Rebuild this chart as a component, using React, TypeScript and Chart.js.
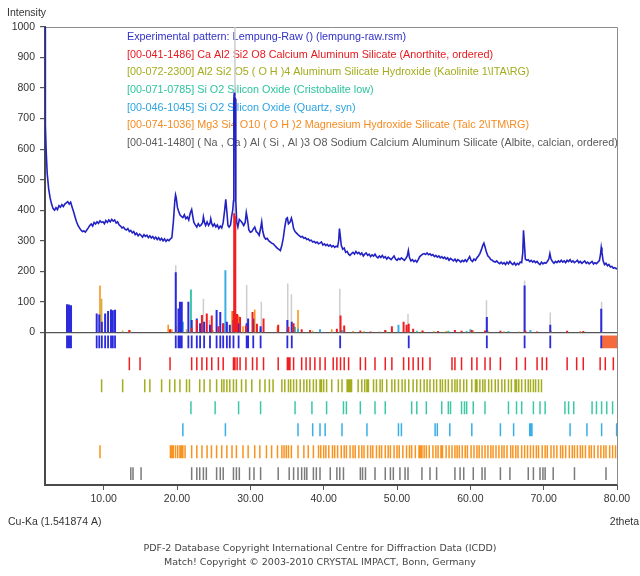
import React, { useEffect, useRef } from "react";
import { Chart, registerables } from "chart.js";

Chart.register(...registerables);

// ---------------- data ----------------
const X_MIN = 2;
const X_MAX = 80;
const Y_MIN = -500;
const Y_MAX = 1000;
const xTickValues = [10, 20, 30, 40, 50, 60, 70, 80];
const yTickValues = [0, 100, 200, 300, 400, 500, 600, 700, 800, 900, 1000];

// experimental pattern [2theta, intensity]
const expPattern: [number, number][] = [
  [2.0, 1100], [2.05, 680], [2.15, 600], [2.3, 520], [2.5, 470], [2.7, 440], [2.9, 420], [3.1, 405], [3.3, 400],
  [3.5, 408], [3.7, 402], [3.9, 415], [4.1, 410], [4.3, 418], [4.5, 412], [4.7, 420], [4.9, 424], [5.1, 428],
  [5.3, 420], [5.5, 426], [5.7, 410], [5.9, 395], [6.1, 378], [6.3, 362], [6.5, 350], [6.7, 342], [6.9, 335],
  [7.1, 330], [7.3, 332], [7.5, 328], [7.7, 335], [7.9, 342], [8.1, 350], [8.3, 355], [8.5, 348], [8.7, 360],
  [8.9, 355], [9.1, 362], [9.3, 357], [9.5, 365], [9.7, 360], [9.9, 362], [10.1, 356], [10.3, 366], [10.5, 360],
  [10.7, 368], [10.9, 362], [11.1, 370], [11.3, 364], [11.5, 368], [11.7, 358], [11.9, 362], [12.1, 352], [12.3, 348],
  [12.5, 342], [12.7, 345], [12.9, 338], [13.1, 335], [13.3, 340], [13.5, 330], [13.7, 334], [13.9, 326], [14.1, 330],
  [14.3, 320], [14.5, 325], [14.7, 316], [14.9, 322], [15.1, 318], [15.3, 312], [15.5, 320], [15.7, 314], [15.9, 318],
  [16.1, 310], [16.3, 316], [16.5, 309], [16.7, 314], [16.9, 306], [17.1, 312], [17.3, 304], [17.5, 310], [17.7, 302],
  [17.9, 308], [18.1, 300], [18.3, 306], [18.5, 298], [18.7, 304], [18.9, 300], [19.1, 306], [19.3, 310], [19.5, 360],
  [19.7, 430], [19.8, 450], [19.9, 440], [20.05, 410], [20.2, 398], [20.4, 385], [20.6, 380], [20.8, 376], [21.0, 385],
  [21.2, 372], [21.4, 378], [21.6, 368], [21.8, 390], [22.0, 402], [22.15, 380], [22.3, 360], [22.5, 352], [22.7, 345],
  [22.9, 356], [23.1, 348], [23.3, 352], [23.5, 360], [23.6, 378], [23.75, 360], [23.9, 350], [24.1, 362], [24.3, 350],
  [24.5, 358], [24.6, 372], [24.75, 355], [24.9, 348], [25.1, 355], [25.3, 345], [25.5, 352], [25.7, 340], [25.9, 348],
  [26.1, 342], [26.3, 360], [26.5, 400], [26.65, 436], [26.8, 395], [26.95, 350], [27.1, 345], [27.3, 352], [27.45, 380],
  [27.6, 400], [27.7, 430], [27.75, 760], [27.8, 785], [27.88, 772], [27.95, 765], [28.02, 430], [28.15, 360],
  [28.3, 345], [28.5, 370],
  [28.7, 365], [28.9, 358], [29.1, 350], [29.3, 360], [29.45, 392], [29.6, 372], [29.8, 335], [30.0, 328], [30.2, 330],
  [30.4, 338], [30.6, 345], [30.8, 330], [31.0, 326], [31.2, 318], [31.4, 340], [31.55, 362], [31.7, 330], [31.9, 312],
  [32.1, 305], [32.3, 308], [32.5, 300], [32.7, 296], [32.9, 292], [33.1, 290], [33.3, 285], [33.5, 280], [33.7, 275],
  [33.9, 272], [34.1, 268], [34.3, 285], [34.5, 310], [34.7, 345], [34.9, 372], [35.05, 375], [35.2, 355], [35.4, 360],
  [35.6, 374], [35.75, 360], [35.9, 340], [36.1, 330], [36.3, 325], [36.5, 320], [36.7, 316], [36.9, 312], [37.1, 314],
  [37.3, 308], [37.5, 310], [37.7, 304], [37.9, 306], [38.1, 300], [38.3, 302], [38.5, 296], [38.7, 298], [38.9, 293],
  [39.1, 296], [39.3, 290], [39.5, 292], [39.7, 296], [39.9, 286], [40.1, 290], [40.3, 284], [40.5, 288], [40.7, 282],
  [40.9, 286], [41.1, 280], [41.3, 284], [41.5, 278], [41.7, 282], [41.9, 280], [42.05, 300], [42.15, 340], [42.25, 320],
  [42.4, 285], [42.6, 272], [42.8, 276], [43.0, 262], [43.2, 265], [43.4, 256], [43.6, 252], [43.8, 258], [44.0, 262],
  [44.2, 256], [44.4, 265], [44.6, 258], [44.8, 262], [45.0, 255], [45.2, 260], [45.4, 250], [45.6, 256], [45.8, 260],
  [46.0, 252], [46.2, 256], [46.4, 248], [46.6, 254], [46.8, 250], [47.0, 256], [47.2, 248], [47.4, 244], [47.6, 250],
  [47.8, 245], [48.0, 252], [48.2, 244], [48.4, 248], [48.6, 240], [48.8, 246], [49.0, 242], [49.2, 238], [49.4, 244],
  [49.6, 250], [49.8, 240], [50.0, 236], [50.2, 242], [50.4, 238], [50.6, 244], [50.8, 240], [51.0, 236], [51.2, 242],
  [51.4, 250], [51.55, 268], [51.7, 245], [51.9, 234], [52.1, 238], [52.3, 232], [52.5, 236], [52.7, 230], [52.9, 238],
  [53.1, 248], [53.3, 252], [53.5, 256], [53.7, 258], [53.9, 255], [54.1, 260], [54.3, 254], [54.5, 257], [54.7, 252],
  [54.9, 255], [55.1, 248], [55.3, 252], [55.5, 246], [55.7, 250], [55.9, 244], [56.1, 248], [56.3, 242], [56.5, 246],
  [56.7, 240], [56.9, 244], [57.1, 236], [57.3, 242], [57.5, 238], [57.7, 234], [57.9, 240], [58.1, 232], [58.3, 238],
  [58.5, 235], [58.7, 230], [58.9, 236], [59.1, 232], [59.3, 238], [59.5, 232], [59.7, 240], [59.9, 248], [60.1, 236],
  [60.3, 232], [60.5, 240], [60.7, 236], [60.9, 244], [61.1, 250], [61.3, 258], [61.5, 270], [61.7, 285], [61.85, 292],
  [62.0, 280], [62.2, 262], [62.4, 250], [62.6, 245], [62.8, 238], [63.0, 236], [63.2, 232], [63.4, 230], [63.6, 234],
  [63.8, 228], [64.0, 225], [64.2, 230], [64.4, 224], [64.6, 228], [64.8, 222], [65.0, 230], [65.2, 224], [65.4, 232],
  [65.6, 226], [65.8, 222], [66.0, 228], [66.2, 220], [66.4, 226], [66.6, 222], [66.8, 230], [67.0, 228], [67.15, 260],
  [67.25, 334], [67.35, 300], [67.5, 240], [67.7, 236], [67.9, 238], [68.1, 232], [68.3, 236], [68.5, 230], [68.7, 234],
  [68.9, 228], [69.1, 232], [69.3, 226], [69.5, 222], [69.7, 230], [69.9, 224], [70.1, 228], [70.3, 226], [70.5, 232],
  [70.7, 240], [70.85, 258], [71.0, 240], [71.2, 232], [71.4, 226], [71.6, 232], [71.8, 228], [72.0, 234], [72.2, 230],
  [72.4, 236], [72.6, 230], [72.8, 234], [73.0, 228], [73.2, 236], [73.4, 232], [73.6, 238], [73.8, 230], [74.0, 234],
  [74.2, 228], [74.4, 232], [74.6, 236], [74.8, 228], [75.0, 232], [75.2, 226], [75.4, 230], [75.6, 234], [75.8, 226],
  [76.0, 230], [76.2, 224], [76.4, 228], [76.6, 232], [76.8, 224], [77.0, 228], [77.2, 225], [77.4, 230], [77.6, 235],
  [77.75, 255], [77.85, 278], [77.95, 262], [78.1, 235], [78.3, 222], [78.5, 226], [78.7, 218], [78.9, 222], [79.1, 214],
  [79.3, 216], [79.5, 210], [79.7, 212], [79.9, 208], [80.0, 210],
];

// peak list (blue): positions and stick heights
const peakListTheta = [5.0, 5.12, 5.25, 5.4, 5.55, 9.05, 9.4, 9.75, 10.2, 10.6, 11.0, 11.25, 11.55, 19.83, 20.2, 20.4, 20.65,
  21.55, 22.0, 22.7, 23.15, 23.7, 24.5, 25.4, 25.9, 26.3, 26.8, 27.2, 27.7, 28.4, 29.5, 29.7, 30.4, 31.4, 35.05, 35.65,
  42.25, 51.6, 62.25, 67.4, 70.9, 77.85];
const peakListHeight = [92, 90, 91, 88, 89, 62, 58, 35, 62, 70, 75, 72, 74, 197, 78, 100, 100,
  100, 40, 45, 30, 35, 25, 73, 67, 30, 35, 25, 40, 30, 30, 45, 45, 20, 40, 35,
  0, 0, 50, 153, 25, 77];
const selectedRange = [77.85, 80];

// Anorthite (red)
const anorthiteTheta = [13.5, 14.96, 19.05, 22.0, 22.7, 23.4, 24.06, 24.74, 25.64, 26.3, 27.7, 27.9, 28.2, 28.6, 29.4, 30.3,
  30.9, 31.8, 33.8, 35.05, 35.2, 35.4, 35.9, 37.0, 37.6, 38.15, 38.8, 39.5, 40.2, 41.3, 41.8, 42.3, 42.8, 43.4, 45.0,
  45.7, 47.0, 48.4, 49.3, 50.9, 51.6, 52.2, 52.9, 53.5, 54.5, 57.5, 57.9, 58.8, 60.2, 60.9, 62.0, 62.7, 64.1, 66.3,
  67.5, 69.1, 69.8, 70.4, 73.2, 74.5, 75.4, 77.7, 78.4, 79.5];
const anorthiteSticks: [number, number][] = [[13.5, 8], [19.05, 10], [22.0, 15], [22.7, 40], [23.4, 57], [24.06, 62],
  [24.74, 55], [25.64, 20], [26.3, 28], [27.7, 70], [27.8, 390], [27.95, 380], [28.2, 60], [28.6, 50], [29.4, 22],
  [30.3, 67], [30.9, 28], [31.8, 45], [33.8, 25], [35.2, 18], [35.9, 30], [37.0, 10], [38.15, 8], [41.8, 12],
  [42.3, 55], [42.8, 22], [45.0, 6], [46.4, 3], [48.4, 8], [49.3, 20], [50.9, 35], [51.3, 25], [51.6, 28], [52.2, 12],
  [53.5, 6], [55.6, 4], [57.9, 8], [58.8, 5], [60.2, 8], [62.0, 6], [64.1, 5], [67.5, 6], [69.1, 3], [73.2, 5], [75.4, 4]];

// Kaolinite (olive)
const kaoliniteTheta = [9.72, 12.59, 15.6, 16.3, 17.9, 19.0, 19.7, 20.4, 21.3, 21.7, 23.1, 23.7, 24.5, 25.4, 26.1, 26.4,
  26.8, 27.2, 27.7, 28.1, 28.8, 29.4, 30.2, 31.3, 32.0, 32.6, 33.1, 34.3, 34.7, 35.2, 35.5, 35.9, 36.3, 36.8, 37.3,
  37.7, 38.1, 38.6, 39.0, 39.5, 39.7, 40.0, 40.4, 41.1, 42.0, 42.5, 43.2, 43.4, 43.6, 43.8, 44.7, 45.2, 45.6, 45.9,
  46.1, 46.8, 47.2, 47.7, 48.0, 48.6, 49.3, 49.7, 50.2, 50.7, 51.1, 51.6, 52.2, 52.7, 53.2, 53.7, 54.1, 54.5, 55.0,
  55.4, 55.9, 56.2, 56.6, 57.0, 57.5, 57.9, 58.2, 58.6, 59.1, 59.5, 60.2, 60.7, 60.9, 61.3, 61.7, 62.0, 62.5, 62.9,
  63.4, 63.8, 64.3, 64.7, 65.2, 65.6, 66.1, 66.3, 66.6, 67.0, 67.5, 67.9, 68.2, 68.6, 68.9, 69.3, 69.7];
const kaoliniteSticks: [number, number][] = [[9.72, 110], [12.59, 6], [19.9, 20], [20.4, 12], [21.3, 10], [24.9, 8],
  [35.0, 6], [38.5, 5], [45.5, 4], [48.6, 3], [55.0, 4], [62.4, 5], [66.6, 3]];

// Cristobalite (teal)
const cristobaliteTheta = [21.9, 25.2, 28.4, 31.4, 36.1, 38.4, 40.4, 42.7, 43.1, 45.0, 47.0, 48.4, 52.0, 52.7, 54.0,
  56.1, 57.0, 57.3, 58.8, 59.2, 59.5, 60.4, 62.0, 65.2, 66.3, 67.0, 68.6, 69.5, 70.2, 72.9, 73.4, 74.1, 76.6, 77.2,
  77.9, 78.6, 79.4];
const cristobaliteSticks: [number, number][] = [[21.9, 140], [28.4, 15], [31.4, 12], [36.1, 18], [48.4, 6], [52.7, 5],
  [57.0, 5], [59.5, 4], [65.2, 4]];

// Quartz (cyan)
const quartzTheta = [20.8, 26.6, 36.5, 38.5, 39.5, 40.2, 42.5, 45.9, 50.2, 50.6, 55.2, 55.5, 57.2, 60.2, 64.1, 65.9,
  68.1, 68.25, 68.4, 73.6, 75.9, 77.9, 79.95];
const quartzSticks: [number, number][] = [[20.8, 35], [26.6, 203], [36.5, 12], [39.5, 10], [42.5, 8], [50.2, 25],
  [60.0, 10], [68.2, 8]];

// Talc (orange)
const talcTheta = [9.5, 19.1, 19.3, 19.5, 19.8, 20.1, 20.4, 20.6, 20.8, 21.1, 22.0, 22.7, 23.4, 24.1, 24.7, 25.4, 26.1,
  26.8, 27.5, 28.1, 29.0, 29.7, 30.6, 31.3, 32.2, 32.9, 33.7, 34.3, 34.6, 34.9, 35.2, 35.6, 36.5, 37.3, 37.9, 38.6,
  39.3, 39.6, 40.0, 40.3, 40.7, 41.2, 41.5, 41.9, 42.4, 42.8, 43.1, 43.6, 44.0, 44.3, 44.8, 45.2, 45.5, 46.0, 46.4,
  46.7, 47.2, 47.6, 47.9, 48.4, 48.8, 49.1, 49.6, 50.0, 50.3, 50.8, 51.3, 51.7, 52.0, 52.5, 53.0, 53.2, 53.4, 53.7,
  54.0, 54.4, 54.9, 55.3, 55.6, 56.0, 56.2, 56.7, 57.1, 57.5, 57.9, 58.2, 58.5, 58.9, 59.3, 59.6, 60.1, 60.5, 60.9,
  61.2, 61.6, 62.0, 62.4, 62.8, 63.1, 63.5, 63.9, 64.3, 64.6, 65.0, 65.5, 65.8, 66.2, 66.5, 67.0, 67.4, 67.8, 68.2,
  68.6, 69.0, 69.3, 69.8, 70.2, 70.5, 71.0, 71.4, 71.8, 72.3, 72.6, 73.0, 73.5, 73.9, 74.2, 74.6, 75.0, 75.3, 75.7,
  76.2, 76.5, 76.9, 77.4, 77.8, 78.2, 78.5, 79.0, 79.4, 79.8];
const talcSticks: [number, number][] = [[9.5, 153], [13.5, 8], [18.8, 25], [19.3, 10], [27.5, 70], [28.4, 55],
  [29.0, 20], [30.6, 75], [33.7, 18], [36.5, 73], [41.1, 10], [44.0, 4], [47.6, 3], [49.3, 10], [53.4, 5], [56.7, 4],
  [60.4, 6], [64.6, 3], [71.0, 5], [75.0, 4]];

// Albite (gray)
const albiteTheta = [13.7, 14.0, 15.1, 22.0, 22.7, 23.1, 23.6, 24.0, 25.4, 25.9, 26.3, 27.7, 28.1, 28.5, 29.9, 30.5,
  31.4, 33.8, 35.3, 35.9, 36.5, 37.0, 37.4, 37.7, 38.6, 39.0, 39.5, 40.9, 41.8, 42.2, 42.7, 45.0, 45.3, 45.7, 47.0,
  48.4, 49.1, 49.5, 50.4, 51.1, 51.5, 53.4, 54.5, 55.4, 57.9, 58.6, 59.1, 60.4, 61.6, 62.0, 64.1, 65.4, 67.9, 68.6,
  69.5, 69.9, 70.2, 71.3, 74.2, 78.5];
const albiteSticks: [number, number][] = [[13.7, 5], [19.83, 220], [22.0, 30], [23.6, 110], [24.4, 40], [27.9, 1000],
  [28.1, 60], [29.5, 155], [30.5, 40], [31.5, 100], [35.1, 160], [35.6, 125], [42.2, 143], [51.5, 60], [62.2, 105],
  [67.4, 170], [70.9, 65], [77.9, 100]];

const legendLines = [
  "Experimental pattern: Lempung-Raw () (lempung-raw.rsm)",
  "[00-041-1486] Ca Al2 Si2 O8 Calcium Aluminum Silicate (Anorthite, ordered)",
  "[00-072-2300] Al2 Si2 O5 ( O H )4 Aluminum Silicate Hydroxide (Kaolinite 1\\ITA\\RG)",
  "[00-071-0785] Si O2 Silicon Oxide (Cristobalite low)",
  "[00-046-1045] Si O2 Silicon Oxide (Quartz, syn)",
  "[00-074-1036] Mg3 Si4 O10 ( O H )2 Magnesium Hydroxide Silicate (Talc 2\\ITM\\RG)",
  "[00-041-1480] ( Na , Ca ) Al ( Si , Al )3 O8 Sodium Calcium Aluminum Silicate (Albite, calcian, ordered)",
];
const yAxisTitle = "Intensity";
const xAxisLeftTitle = "Cu-Ka (1.541874 A)";
const xAxisRightTitle = "2theta";
const footerLines = [
  "PDF-2 Database Copyright International Centre for Diffraction Data (ICDD)",
  "Match! Copyright \u00A9 2003-2010 CRYSTAL IMPACT, Bonn, Germany",
];

// ---------------- styling ----------------
const C_EXP = "#2222c4";
const C_BLUE = "#2b2bdc";
const C_RED = "#f01e23";
const C_OLIVE = "#a3ad1e";
const C_TEAL = "#3cc8a6";
const C_CYAN = "#3aaee6";
const C_ORANGE = "#f7931e";
const C_GRAY_ROW = "#7a7a7a";
const C_GRAY_STICK = "#cdcdcd";
const legendColors = ["#3030c8", "#e8191f", "#a4ac1c", "#2cc49c", "#2aa4e0", "#f58a1f", "#5a5a5a"];

const ROW_START = -10;
const ROW_GAP = 72;
const ROW_H = 42;

type Pt = { x: number; y: number | null };

function stickData(list: [number, number][]): Pt[] {
  const out: Pt[] = [];
  for (const [x, h] of list) {
    out.push({ x, y: 0 }, { x, y: h }, { x, y: null });
  }
  return out;
}

function rowData(xs: number[], row: number): Pt[] {
  const top = ROW_START - ROW_GAP * row;
  const bottom = top - ROW_H;
  const out: Pt[] = [];
  for (const x of xs) {
    out.push({ x, y: top }, { x, y: bottom }, { x, y: null });
  }
  return out;
}

function lineDs(data: Pt[], color: string, width: number, order: number) {
  return {
    type: "line" as const,
    data,
    borderColor: color,
    backgroundColor: color,
    borderWidth: width,
    pointRadius: 0,
    pointHoverRadius: 0,
    spanGaps: false,
    tension: 0,
    fill: false,
    order,
  };
}

const textPlugin = {
  id: "xrdTexts",
  beforeDatasetsDraw(chart: any) {
    const { ctx, chartArea } = chart;
    ctx.save();
    ctx.strokeStyle = "#8c8c8c";
    ctx.lineWidth = 1;
    ctx.beginPath();
    ctx.moveTo(chartArea.left, chartArea.top + 0.5);
    ctx.lineTo(chartArea.right + 0.5, chartArea.top + 0.5);
    ctx.lineTo(chartArea.right + 0.5, chartArea.bottom);
    ctx.stroke();
    ctx.font = '10.8px "Liberation Sans", Arial, sans-serif';
    ctx.textBaseline = "middle";
    ctx.textAlign = "left";
    legendLines.forEach((t, i) => {
      ctx.fillStyle = legendColors[i];
      ctx.fillText(t, 127, 37 + i * 17.7);
    });
    ctx.restore();
  },
  afterDraw(chart: any) {
    const { ctx } = chart;
    ctx.save();
    ctx.fillStyle = "#333";
    ctx.textBaseline = "middle";
    ctx.font = '10.5px "Liberation Sans", Arial, sans-serif';
    ctx.textAlign = "left";
    ctx.fillText(yAxisTitle, 7, 13);
    ctx.fillText(xAxisLeftTitle, 8, 522);
    ctx.textAlign = "right";
    ctx.fillText(xAxisRightTitle, 639, 522);
    ctx.font = '9.5px "DejaVu Sans", sans-serif';
    ctx.textAlign = "center";
    ctx.fillStyle = "#444";
    ctx.fillText(footerLines[0], 320, 549);
    ctx.fillText(footerLines[1], 320, 563);
    ctx.restore();
  },
};

export default function App() {
  const canvasRef = useRef<HTMLCanvasElement | null>(null);

  useEffect(() => {
    if (!canvasRef.current) return;
    const peakSticks: [number, number][] = peakListTheta.map((x, i) => [x, peakListHeight[i]]);

    const datasets: any[] = [
      lineDs(stickData(anorthiteSticks), C_RED, 2, 0),
      lineDs(expPattern.map(([x, y]) => ({ x, y })), C_EXP, 1.6, 1),
      lineDs(stickData(peakSticks), C_BLUE, 2, 2),
      lineDs(stickData(quartzSticks), C_CYAN, 2, 3),
      lineDs(stickData(cristobaliteSticks), C_TEAL, 2, 3),
      lineDs(stickData(talcSticks), C_ORANGE, 1.6, 4),
      lineDs(stickData(kaoliniteSticks), "#c9b43c", 1.6, 4),
      lineDs(stickData(albiteSticks), C_GRAY_STICK, 1.5, 9),
      lineDs(rowData(peakListTheta, 0), C_BLUE, 1.8, 5),
      lineDs(rowData(anorthiteTheta, 1), C_RED, 1.5, 5),
      lineDs(rowData(kaoliniteTheta, 2), C_OLIVE, 1.5, 5),
      lineDs(rowData(cristobaliteTheta, 3), C_TEAL, 1.5, 5),
      lineDs(rowData(quartzTheta, 4), C_CYAN, 1.5, 5),
      lineDs(rowData(talcTheta, 5), C_ORANGE, 1.5, 5),
      lineDs(rowData(albiteTheta, 6), C_GRAY_ROW, 1.5, 5),
      {
        type: "line",
        data: [
          { x: selectedRange[0], y: ROW_START },
          { x: selectedRange[1], y: ROW_START },
        ],
        borderWidth: 0,
        borderColor: "rgba(0,0,0,0)",
        backgroundColor: "#f46a3c",
        pointRadius: 0,
        fill: { value: ROW_START - ROW_H },
        order: 6,
      },
    ];

    const chart = new Chart(canvasRef.current, {
      type: "line",
      data: { datasets },
      plugins: [textPlugin],
      options: {
        animation: false,
        responsive: false,
        maintainAspectRatio: false,
        normalized: false,
        parsing: true,
        events: [],
        layout: { padding: { left: 0, right: 23, top: 27, bottom: 56 } },
        plugins: {
          legend: { display: false },
          tooltip: { enabled: false },
          title: { display: false },
        },
        scales: {
          x: {
            type: "linear",
            min: X_MIN,
            max: X_MAX,
            afterBuildTicks: (scale: any) => {
              scale.ticks = xTickValues.map((v) => ({ value: v }));
            },
            afterFit: (scale: any) => {
              scale.height = 35;
            },
            ticks: {
              autoSkip: false,
              maxRotation: 0,
              padding: 3,
              color: "#333",
              font: { family: '"Liberation Sans", Arial, sans-serif', size: 10.5 },
              callback: (v: any) => Number(v).toFixed(2),
            },
            grid: { drawOnChartArea: false, drawTicks: true, tickLength: 5, color: "#555" },
            border: { display: true, color: "#4a4a4a", width: 2 },
          },
          y: {
            type: "linear",
            min: Y_MIN,
            max: Y_MAX,
            afterBuildTicks: (scale: any) => {
              scale.ticks = yTickValues.map((v) => ({ value: v }));
            },
            afterFit: (scale: any) => {
              scale.width = 45;
            },
            ticks: {
              autoSkip: false,
              padding: 5,
              color: "#333",
              font: { family: '"Liberation Sans", Arial, sans-serif', size: 10.5 },
              callback: (v: any) => String(v),
            },
            grid: {
              drawOnChartArea: true,
              drawTicks: true,
              tickLength: 5,
              tickColor: "#555",
              color: (c: any) => (c.tick && c.tick.value === 0 ? "#555" : "rgba(0,0,0,0)"),
              lineWidth: 1.2,
            },
            border: { display: true, color: "#4a4a4a", width: 2 },
          },
        },
      } as any,
    });
    return () => chart.destroy();
  }, []);

  return (
    <div style={{ position: "absolute", left: 0, top: 0, width: 640, height: 576, background: "#fff" }}>
      <canvas ref={canvasRef} width={640} height={576} style={{ display: "block", width: 640, height: 576 }} />
    </div>
  );
}
